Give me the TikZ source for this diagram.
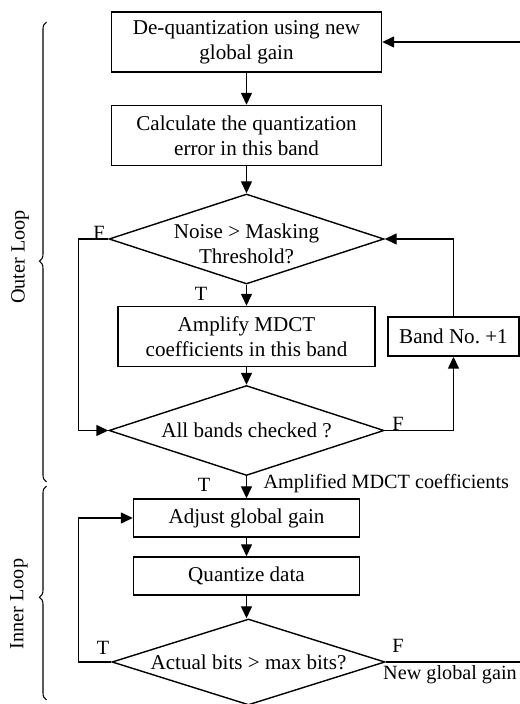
\documentclass[tikz,border=0pt]{standalone}
\usepackage{fontspec}
\setmainfont{Liberation Serif}
\usetikzlibrary{shapes.geometric, positioning, arrows.meta, decorations.pathreplacing}

\begin{document}
\begin{tikzpicture}[
  font=\fontsize{12}{14}\selectfont,
  line width=0.8pt,
  >={Triangle[length=2.4mm,width=2.2mm]},
  process/.style={
    draw=black,
    fill=white,
    minimum width=5.4cm,
    minimum height=1.2cm,
    align=center,
    inner sep=2pt,
  },
  smallbox/.style={
    process,
    minimum width=4.52cm,
    minimum height=0.76cm,
  },
  decision/.style={
    draw=black,
    diamond,
    minimum width=5.5cm,
    minimum height=1.8cm,
    inner sep=0pt,
  },
  flag/.style={inner sep=1pt, font=\fontsize{11.5}{13}\selectfont},
  note/.style={font=\fontsize{11.5}{13}\selectfont},
  loopbrace/.style={
    decorate,
    decoration={brace, amplitude=4pt, aspect=0.48},
    line width=0.6pt,
  }
]
  \useasboundingbox (0,0) rectangle (10.4,14.08);

  % Outer loop
  \node[process] (deq) at (4.93, 13.24) {De-quantization using new\\global gain};
  \node[process] (err) at (4.93, 11.37) {Calculate the quantization\\error in this band};
  \node[decision, label={[align=center, yshift=-0.1cm]center:Noise > Masking\\Threshold?}] (noise) at (4.93, 9.30) {};
  \node[process, minimum width=5.14cm] (amp) at (4.93, 7.35) {Amplify MDCT\\coefficients in this band};
  \node[process, minimum width=2.62cm, minimum height=0.78cm] (band) at (9.07, 7.35) {Band No.\ +1};
  \node[decision, label={center:All bands checked ?}] (all) at (4.93, 5.47) {};

  % Inner loop
  \node[smallbox] (adj) at (4.93, 3.72) {Adjust global gain};
  \node[smallbox] (quant) at (4.93, 2.56) {Quantize data};
  \node[decision, minimum width=5.46cm, minimum height=1.72cm,
        label={center:Actual bits > max bits?}] (bits) at (4.97, 0.84) {};

  % loop return columns
  \coordinate (lft) at (1.57, 0);
  \coordinate (rgt) at (10.45, 0);

  \draw[->] (deq) -- (err);
  \draw[->] (err) -- (noise);
  \draw[->] (noise) -- (amp);
  \draw[->] (amp) -- (all);
  \draw[->] (all) -- (adj);
  \draw[->] (adj) -- (quant);
  \draw[->] (quant.south) -- (quant.south |- bits.north);

  \draw[->] (noise.west) -- (noise.west -| lft) -- (all.west -| lft) -- (all.west);
  \draw[->] (all.east) -| (band.south);
  \draw[->] (band.north) |- (noise.east);
  \draw[->] (bits.west) -- (bits.west -| lft) |- (adj.west);
  \draw[->] (bits.east) -- (bits.east -| rgt) |- (deq.east);

  % T / F
  \node[flag] (nf) at (1.98, 9.43) {F};
  \node[flag] (nt) at (4.02, 8.20) {T};
  \node[flag] (af) at (7.96, 5.61) {F};
  \node[flag] (at) at (4.08, 4.38) {T};
  \node[flag] (bt) at (2.06, 1.12) {T};
  \node[flag] (bf) at (7.96, 1.16) {F};
  \node[note, anchor=west] (ampout) at (5.14, 4.40) {Amplified MDCT coefficients};
  \node[note] (newgain) at (9.0, 0.58) {New global gain};

  % Braces
  \draw[loopbrace] (0.93, 4.44) -- (0.93, 13.64);
  \draw[loopbrace] (0.93, 0.08) -- (0.93, 4.36);
  \node[note, rotate=90] (outer) at (0.40, 8.94) {Outer Loop};
  \node[note, rotate=90] (inner) at (0.38, 2.00) {Inner Loop};

\end{tikzpicture}
\end{document}
